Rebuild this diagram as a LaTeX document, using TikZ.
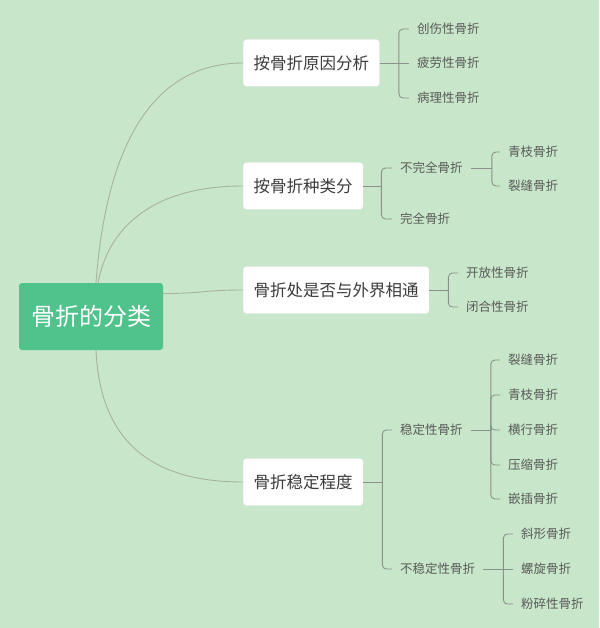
\documentclass[tikz,border=0pt]{standalone}
\usepackage{fontspec}
\setmainfont{Noto Sans CJK SC}
\usetikzlibrary{calc}

\definecolor{bgcol}{RGB}{200,230,201}
\definecolor{rootcol}{RGB}{80,194,139}
\definecolor{curvecol}{RGB}{168,178,162}
\definecolor{linecol}{RGB}{138,144,138}
\definecolor{txtcol}{RGB}{60,60,60}
\definecolor{leafcol}{RGB}{90,90,90}

\begin{document}
\begin{tikzpicture}[x=1pt,y=-1pt,
	root/.style={fill=rootcol,text=white,rounded corners=3pt,minimum width=144pt,minimum height=67pt,inner sep=0pt,font=\fontsize{24}{24}\selectfont},
	branch/.style={fill=white,draw=black!13,rounded corners=3pt,anchor=west,minimum height=47pt,inner xsep=10.5pt,inner ysep=0pt,font=\fontsize{16.5}{16.5}\selectfont,text=txtcol},
	leaf/.style={anchor=west,inner xsep=8pt,inner ysep=2pt,font=\fontsize{12.5}{12.5}\selectfont,text=leafcol},
	curve/.style={draw=curvecol,line width=0.9pt},
	bracket/.style={draw=linecol,line width=0.9pt,rounded corners=4pt}]
	\path[use as bounding box,fill=bgcol] (0,0) rectangle (599,628);

	\node[root] (root) at (91,316.5) {骨折的分类};

	\node[branch] (cause) at (243,63) {按骨折原因分析};
	\node[branch] (kind) at (243,186) {按骨折种类分};
	\node[branch] (open) at (243,290) {骨折处是否与外界相通};
	\node[branch] (stab) at (243,482) {骨折稳定程度};

	\draw[curve] ([xshift=5pt]root.north) .. controls +(10,-133) and +(-93,0) .. (cause.west);
	\draw[curve] ([xshift=7pt]root.north) .. controls +(10,-53) and +(-93,0) .. (kind.west);
	\draw[curve] ([yshift=23pt]root.east) .. controls +(40,0) and +(-40,0) .. (open.west);
	\draw[curve] ([xshift=5pt]root.south) .. controls +(4,90) and +(-93,0) .. (stab.west);

	% 原因
	\node[leaf] (trauma) at (409,29) {创伤性骨折};
	\node[leaf] (fatigue) at (409,63) {疲劳性骨折};
	\node[leaf] (patho) at (409,98) {病理性骨折};
	\draw[bracket] (cause.east) -- ++(19,0) coordinate (jcause);
	\draw[bracket] (jcause) |- (trauma.west);
	\draw[bracket] (jcause) -- (fatigue.west);
	\draw[bracket] (jcause) |- (patho.west);

	% 种类
	\node[leaf] (partial) at (392,168) {不完全骨折};
	\node[leaf] (full) at (392,219) {完全骨折};
	\draw[bracket] (kind.east) -- ++(18,0) coordinate (jkind);
	\draw[bracket] (jkind) |- (partial.west);
	\draw[bracket] (jkind) |- (full.west);

	\node[leaf] (green1) at (500,152) {青枝骨折};
	\node[leaf] (crack1) at (500,186) {裂缝骨折};
	\draw[bracket] (partial.east) -- ++(21,0) coordinate (jpartial);
	\draw[bracket] (jpartial) |- (green1.west);
	\draw[bracket] (jpartial) |- (crack1.west);

	% 外界
	\node[leaf] (opened) at (458,273) {开放性骨折};
	\node[leaf] (closed) at (458,307) {闭合性骨折};
	\draw[bracket] (open.east) -- ++(19,0) coordinate (jopen);
	\draw[bracket] (jopen) |- (opened.west);
	\draw[bracket] (jopen) |- (closed.west);

	% 稳定程度
	\node[leaf] (stable) at (392,430) {稳定性骨折};
	\node[leaf] (unstable) at (392,569) {不稳定性骨折};
	\draw[bracket] (stab.east) -- ++(19,0) coordinate (jstab);
	\draw[bracket] (jstab) |- (stable.west);
	\draw[bracket] (jstab) |- (unstable.west);

	\node[leaf] (crack2) at (500,360) {裂缝骨折};
	\node[leaf] (green2) at (500,395) {青枝骨折};
	\node[leaf] (trans) at (500,430) {横行骨折};
	\node[leaf] (press) at (500,465) {压缩骨折};
	\node[leaf] (impact) at (500,499) {嵌插骨折};
	\draw[bracket] (stable.east) -- ++(20,0) coordinate (jstable);
	\foreach \c in {crack2,green2,trans,press,impact}
		\draw[bracket] (jstable) |- (\c.west);

	\node[leaf] (oblique) at (513,534) {斜形骨折};
	\node[leaf] (spiral) at (513,569) {螺旋骨折};
	\node[leaf] (commin) at (513,604) {粉碎性骨折};
	\draw[bracket] (unstable.east) -- ++(20,0) coordinate (junstable);
	\draw[bracket] (junstable) |- (oblique.west);
	\draw[bracket] (junstable) -- (spiral.west);
	\draw[bracket] (junstable) |- (commin.west);
\end{tikzpicture}
\end{document}
